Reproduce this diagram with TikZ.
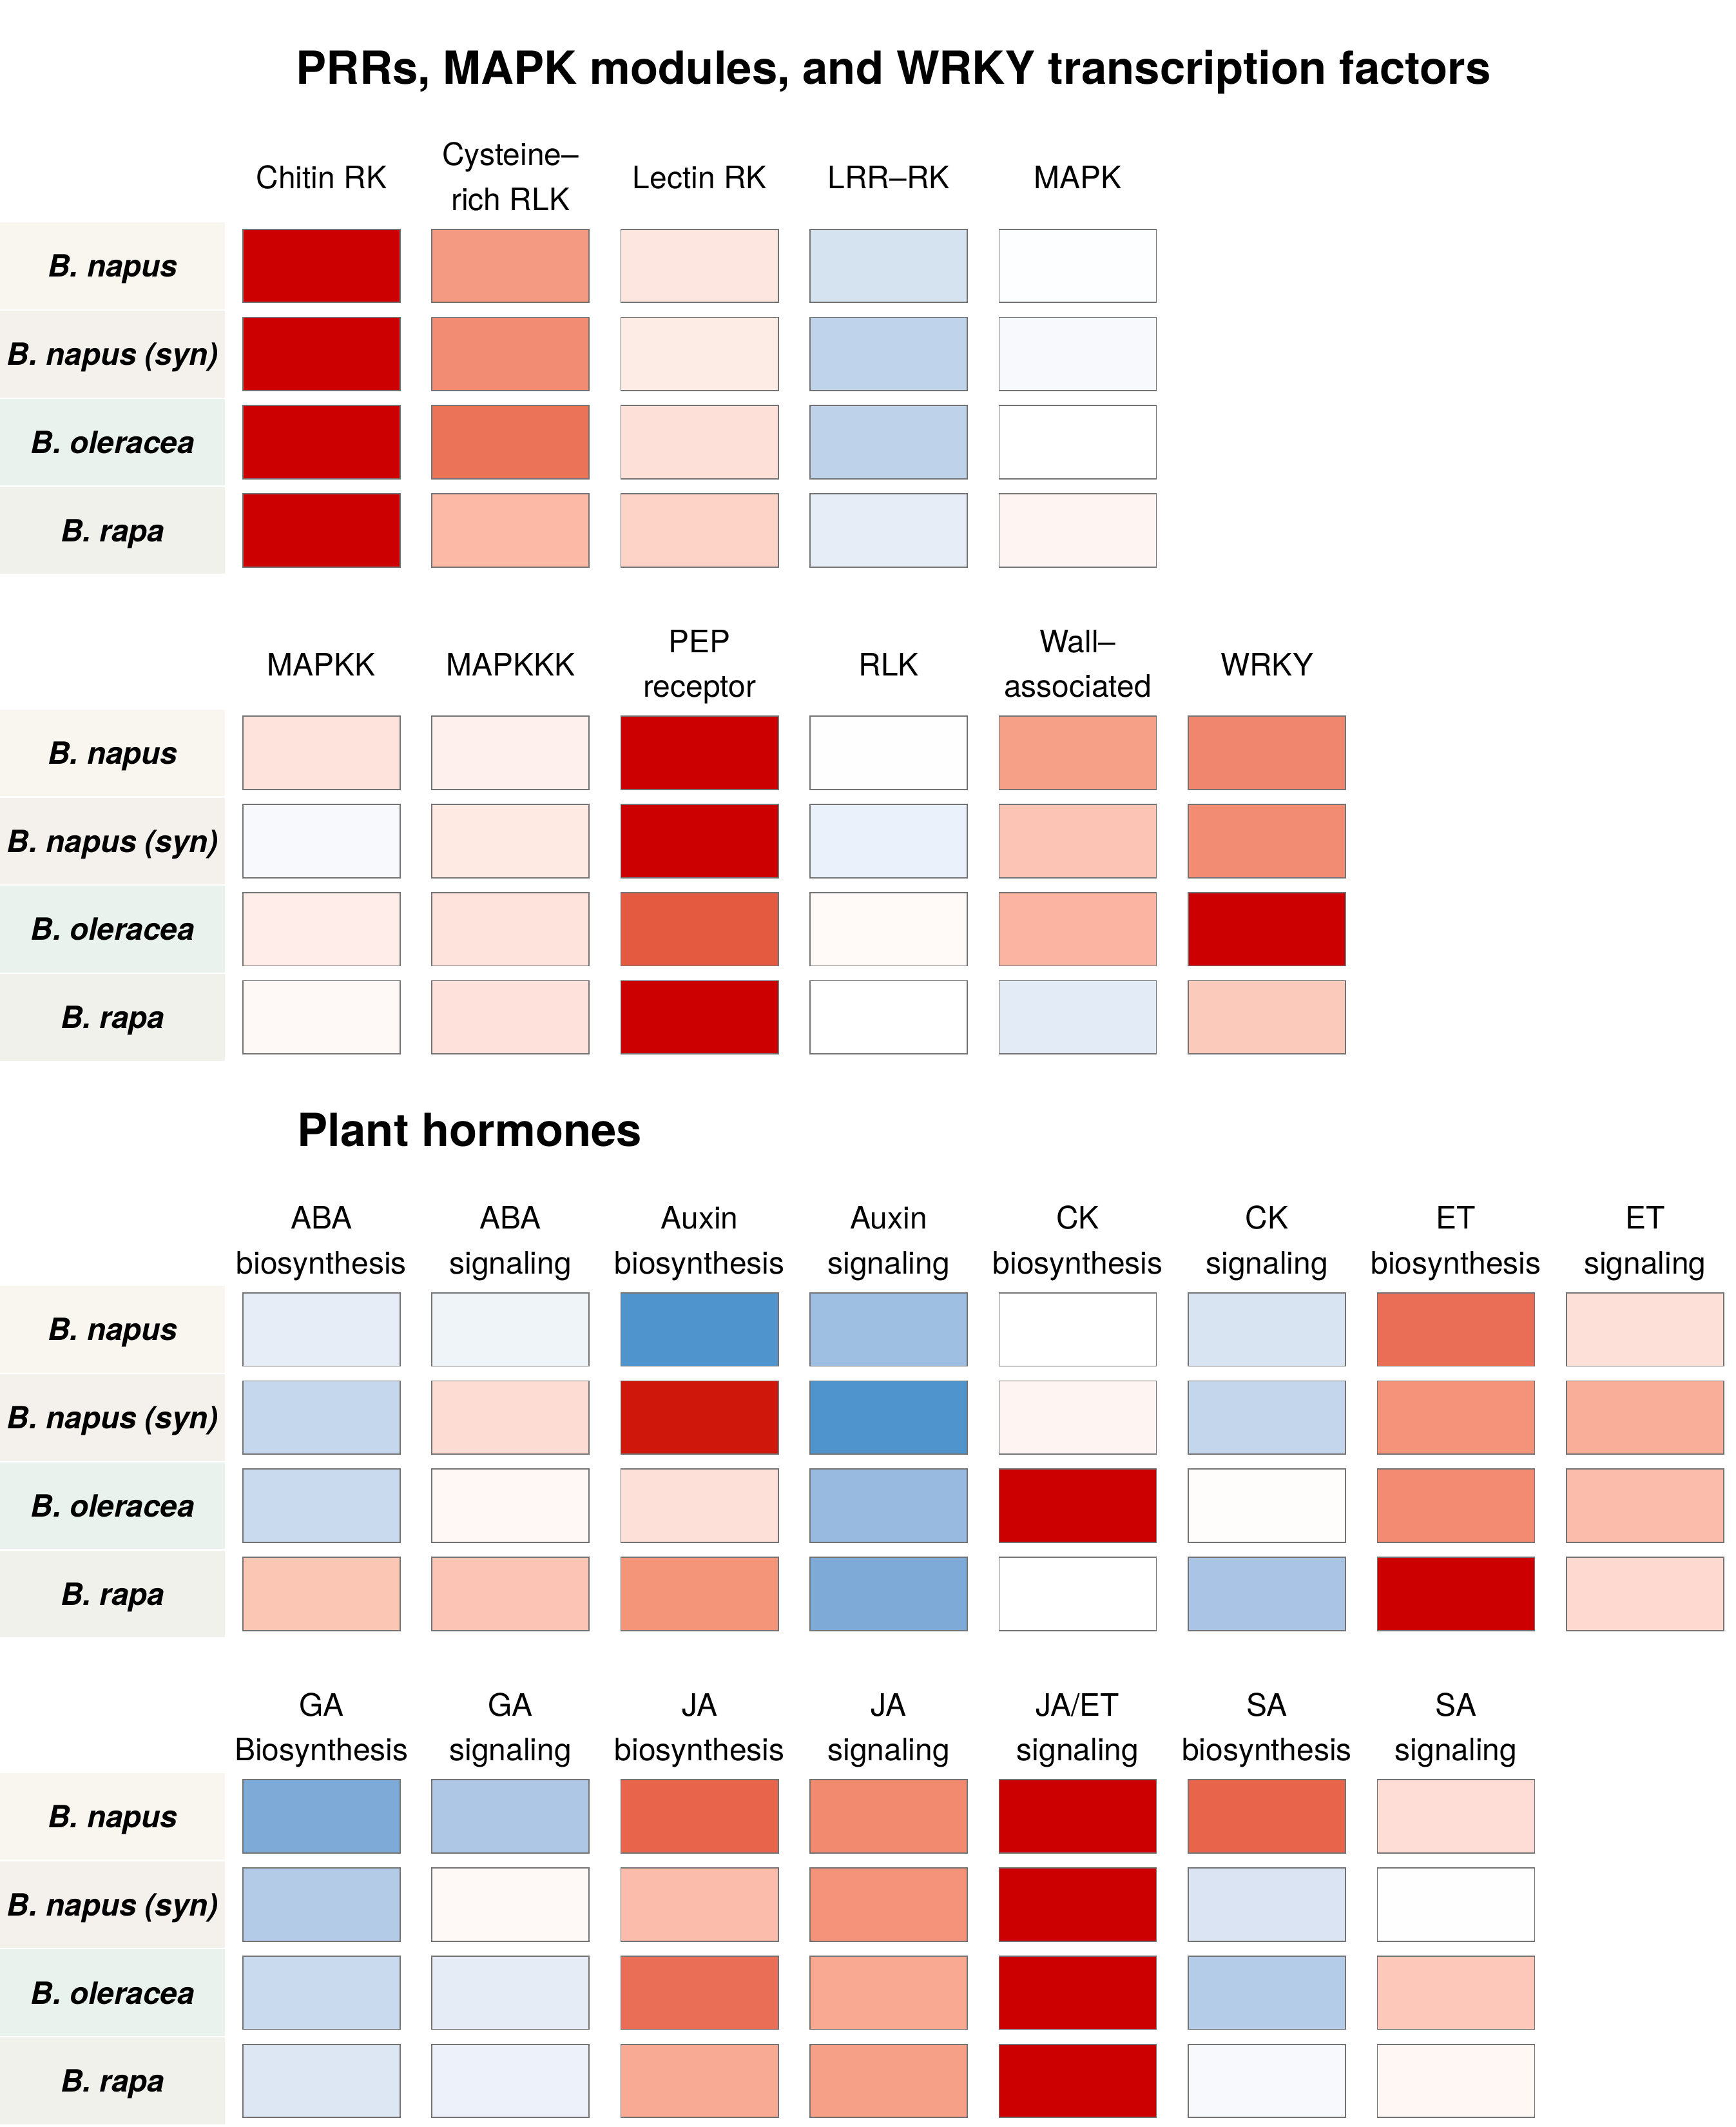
\documentclass[tikz,border=0pt]{standalone}
\usepackage{fontspec}
\setmainfont{TeX Gyre Heros}
\usepackage{xcolor}
\usepackage{tikz}
\usetikzlibrary{positioning}

\begin{document}
\begin{tikzpicture}[
  x=0.5pt, y=-0.5pt,
  cell/.style={draw=black!55, line width=0.4pt, minimum width=58pt, minimum height=27pt, inner sep=0pt},
  species/.style={minimum width=83pt, minimum height=32pt, inner sep=0pt, text depth=0pt, font=\fontsize{11.3}{14}\selectfont\bfseries\itshape},
  collabel/.style={align=center, inner sep=0pt, anchor=base, font=\fontsize{11.4}{16.5}\selectfont},
  heading/.style={inner sep=0pt, anchor=base, font=\fontsize{16.8}{20}\selectfont\bfseries}
]
  \useasboundingbox (0,0) rectangle (1280,1568);

  \node (title) [heading] at (659,62) {PRRs, MAPK modules, and WRKY transcription factors};
  \node (hormones) [heading, anchor=base west] at (219,845) {Plant hormones};

  % species bands, one set per block
  \foreach \top [count=\b] in {169,528,953,1312}
    \foreach \sp/\bg [count=\r] in {B. napus/F8F6EE,B. napus (syn)/F4F0EC,B. oleracea/E9F2EC,B. rapa/EFF1EA} {
      \definecolor{bandcol}{HTML}{\bg}
      \node (sp-\b-\r) [species, fill=bandcol] at (83, {\top+27+65*(\r-1)}) {\sp};
    }

  % PRRs / MAPK
  \foreach \lab/\dy [count=\c] in {Chitin RK/30,Cysteine--\\rich RLK/14,Lectin RK/30,LRR--RK/30,MAPK/30}
    \node (prr-lab-\c) [collabel] at ({237+139.43*(\c-1)}, 169-\dy) {\lab};
  \foreach \vals [count=\r] in {
      {CC0000,F59A82,FDE6E0,D5E2F0,FDFEFF},
      {CC0000,F28D74,FDEBE5,BFD4EA,F7F9FD},
      {CC0000,EB7458,FDE0D8,BED2EA,FFFFFF},
      {CC0000,FBB9A6,FDD3C8,E6EDF6,FEF4F1}}
    \foreach \hex [count=\c] in \vals {
      \definecolor{cellcol}{HTML}{\hex}
      \node (prr-\r-\c) [cell, fill=cellcol] at ({237+139.43*(\c-1)}, {196+65*(\r-1)}) {};
    }

  \foreach \lab/\dy [count=\c] in {MAPKK/30,MAPKKK/30,PEP\\receptor/14,RLK/30,Wall--\\associated/14,WRKY/30}
    \node (mapk-lab-\c) [collabel] at ({237+139.43*(\c-1)}, 528-\dy) {\lab};
  \foreach \vals [count=\r] in {
      {FDE3DC,FEF1ED,CC0000,FEFEFE,F6A088,F1866E},
      {F7F9FD,FEE9E3,CC0000,EAF1FA,FCC4B4,F28C72},
      {FEEDE8,FDE3DC,E45A40,FFFAF7,FBB4A2,CC0000},
      {FEF8F6,FDE1DA,CC0000,FFFFFF,E3ECF6,FCCABB}}
    \foreach \hex [count=\c] in \vals {
      \definecolor{cellcol}{HTML}{\hex}
      \node (mapk-\r-\c) [cell, fill=cellcol] at ({237+139.43*(\c-1)}, {555+65*(\r-1)}) {};
    }

  % hormones
  \foreach \lab [count=\c] in {ABA\\biosynthesis,ABA\\signaling,Auxin\\biosynthesis,Auxin\\signaling,CK\\biosynthesis,CK\\signaling,ET\\biosynthesis,ET\\signaling}
    \node (horm-lab-\c) [collabel] at ({237+139.43*(\c-1)}, 953-14) {\lab};
  \foreach \vals [count=\r] in {
      {E6EDF7,EFF4F9,4F94CD,9FBFE2,FFFFFF,D9E4F2,EA6D55,FDE0D7},
      {C5D7EC,FDDDD3,D0170B,4F94CD,FEF4F1,C4D6EC,F4937A,F9AE9A},
      {C9DAEE,FFF8F5,FDE0D8,98B9E0,CC0000,FEFDFB,F28B72,FBBCAB},
      {FCC6B5,FCC4B4,F49478,7EAAD8,FFFFFF,A9C4E4,CC0000,FDD9CF}}
    \foreach \hex [count=\c] in \vals {
      \definecolor{cellcol}{HTML}{\hex}
      \node (horm-\r-\c) [cell, fill=cellcol] at ({237+139.43*(\c-1)}, {980+65*(\r-1)}) {};
    }

  \foreach \lab [count=\c] in {GA\\Biosynthesis,GA\\signaling,JA\\biosynthesis,JA\\signaling,{JA/ET}\\signaling,SA\\biosynthesis,SA\\signaling}
    \node (defh-lab-\c) [collabel] at ({237+139.43*(\c-1)}, 1312-14) {\lab};
  \foreach \vals [count=\r] in {
      {7EAAD8,ADC7E5,E8654C,F28A70,CC0000,E8654C,FDDDD5},
      {B4CBE8,FEF9F7,FBBCAB,F4937A,CC0000,DAE4F2,FFFEFE},
      {CADAEE,E5ECF6,EA6E56,F9A891,CC0000,B5CCE8,FDC8B9},
      {DDE6F3,EDF2FA,F9AA95,F7A088,CC0000,F7F9FC,FEF7F4}}
    \foreach \hex [count=\c] in \vals {
      \definecolor{cellcol}{HTML}{\hex}
      \node (defh-\r-\c) [cell, fill=cellcol] at ({237+139.43*(\c-1)}, {1339+65*(\r-1)}) {};
    }
\end{tikzpicture}
\end{document}
